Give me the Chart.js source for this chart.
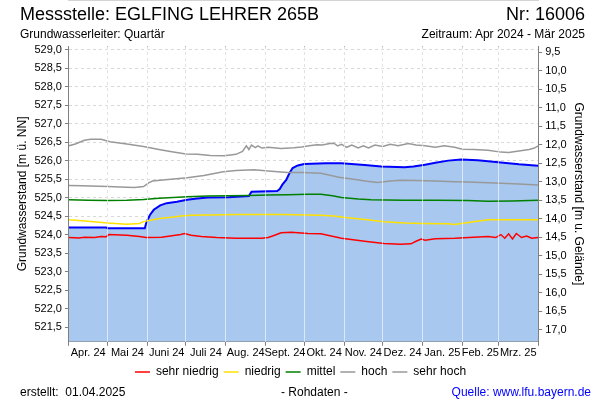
<!DOCTYPE html>
<html>
<head>
<meta charset="utf-8">
<script src="https://cdn.jsdelivr.net/npm/chart.js@4.4.1/dist/chart.umd.min.js"></script>
<style>
  body { margin: 0; background: #fff; font-family: "Liberation Sans", Arial, sans-serif; }
  #wrap { position: relative; width: 600px; height: 400px; }
  .t { position: absolute; white-space: nowrap; color: #000; line-height: 1.15; }
</style>
</head>
<body>
<div id="wrap">
  <canvas id="c" width="600" height="400"></canvas>
  <div class="t" style="left:20px; top:4px; font-size:18px;">Messstelle: EGLFING LEHRER 265B</div>
  <div class="t" style="right:15px; top:4px; font-size:18px;">Nr: 16006</div>
  <div class="t" style="left:20px; top:28px; font-size:12px;">Grundwasserleiter: Quartär</div>
  <div class="t" style="right:15px; top:28px; font-size:12px;">Zeitraum: Apr 2024 - Mär 2025</div>
  <div class="t" style="left:20px; top:386px; font-size:12px;">erstellt:&nbsp; 01.04.2025</div>
  <div class="t" style="left:281px; top:386px; font-size:12px;">- Rohdaten -</div>
  <div class="t" style="right:9px; top:386px; font-size:12px; color:#0000ff;">Quelle: www.lfu.bayern.de</div>
</div>
<script>
// Geländeoberkante (m ü. NN), verbindet linke und rechte Achse
var GROUND = 538.43;

// Tage ab 01.04.2024
var monthStarts = [0, 30, 61, 91, 122, 153, 183, 214, 244, 275, 306, 334, 365];
var monthLabels = ['Apr. 24', 'Mai 24', 'Juni 24', 'Juli 24', 'Aug. 24', 'Sept. 24',
                   'Okt. 24', 'Nov. 24', 'Dez. 24', 'Jan. 25', 'Feb. 25', 'Mrz. 25'];

var leftTicks = [521.5, 522.0, 522.5, 523.0, 523.5, 524.0, 524.5, 525.0,
                 525.5, 526.0, 526.5, 527.0, 527.5, 528.0, 528.5, 529.0];
var rightTicks = [9.5, 10.0, 10.5, 11.0, 11.5, 12.0, 12.5, 13.0,
                  13.5, 14.0, 14.5, 15.0, 15.5, 16.0, 16.5, 17.0];

// Messwerte (Rohdaten)
var messTage = [0, 29, 30, 59, 60, 61, 63, 66, 71, 76, 84, 92, 98, 108, 124, 140, 142, 162,
                164, 166, 169, 171.5, 174, 178, 183, 200, 212, 230, 243, 261, 268, 277, 285,
                295, 305, 318, 336, 350, 365];
var messWerte = [524.19, 524.19, 524.17, 524.17, 524.30, 524.38, 524.53, 524.67, 524.79, 524.85,
                 524.89, 524.94, 524.97, 525.00, 525.01, 525.04, 525.16, 525.18, 525.23, 525.35,
                 525.48, 525.66, 525.80, 525.87, 525.91, 525.93, 525.93, 525.88, 525.84, 525.82,
                 525.84, 525.89, 525.94, 526.00, 526.03, 526.01, 525.95, 525.90, 525.86];

// Vergleichswerte
var sehrNiedrigTage = [0, 8, 12, 20, 25, 29, 31, 45, 55, 60, 72, 87, 90, 95, 103, 115, 130, 150,
                       155, 160, 165, 173, 186, 196, 212, 230, 245, 258, 266, 270, 274, 277, 285,
                       300, 326, 332, 336, 339, 342, 345, 348, 352, 356, 360, 365];
var sehrNiedrigWerte = [523.92, 523.91, 523.93, 523.92, 523.95, 523.94, 524.00, 523.98, 523.95,
                        523.92, 523.93, 524.00, 524.03, 523.98, 523.95, 523.92, 523.90, 523.90,
                        523.92, 523.98, 524.05, 524.06, 524.03, 524.02, 523.90, 523.82, 523.76,
                        523.74, 523.75, 523.82, 523.88, 523.85, 523.89, 523.90, 523.95, 523.92,
                        524.00, 523.90, 524.02, 523.88, 524.03, 523.92, 523.96, 523.90, 523.92];

var niedrigTage = [0, 15, 30, 45, 55, 58, 65, 72, 80, 87, 95, 110, 130, 150, 165, 186, 196, 206,
                   215, 232, 245, 261, 275, 295, 300, 305, 326, 345, 365];
var niedrigWerte = [524.40, 524.36, 524.31, 524.28, 524.30, 524.35, 524.40, 524.44, 524.47, 524.50,
                    524.52, 524.53, 524.54, 524.54, 524.54, 524.53, 524.52, 524.50, 524.46, 524.40,
                    524.35, 524.31, 524.30, 524.29, 524.27, 524.30, 524.40, 524.40, 524.40];

var mittelTage = [0, 15, 30, 45, 58, 70, 92, 108, 124, 140, 155, 170, 186, 196, 205, 212, 225,
                  235, 260, 285, 310, 326, 345, 365];
var mittelWerte = [524.94, 524.93, 524.92, 524.93, 524.95, 524.98, 525.02, 525.04, 525.05, 525.06,
                   525.07, 525.08, 525.09, 525.09, 525.05, 525.00, 524.96, 524.94, 524.93, 524.93,
                   524.92, 524.90, 524.91, 524.93];

var hochTage = [0, 10, 30, 45, 51, 58, 62, 65, 75, 92, 105, 120, 130, 144, 155, 170, 181, 196,
                210, 220, 232, 240, 250, 258, 270, 285, 300, 310, 326, 336, 350, 365];
var hochWerte = [525.33, 525.32, 525.30, 525.28, 525.27, 525.30, 525.40, 525.45, 525.48, 525.54,
                 525.60, 525.70, 525.73, 525.75, 525.72, 525.68, 525.68, 525.66, 525.55, 525.50,
                 525.44, 525.41, 525.45, 525.47, 525.46, 525.45, 525.43, 525.42, 525.40, 525.39,
                 525.37, 525.34];

var sehrHochTage = [0, 5, 12, 17, 25, 32, 45, 58, 70, 80, 91, 100, 110, 121, 130, 135, 138, 140,
                    142, 145, 147, 150, 155, 165, 175, 181, 187, 193, 197, 203, 206, 209, 212,
                    216, 220, 225, 229, 233, 238, 244, 250, 256, 264, 270, 277, 285, 292, 300,
                    306, 315, 326, 336, 342, 350, 358, 362, 365];
var sehrHochWerte = [526.40, 526.45, 526.55, 526.58, 526.58, 526.51, 526.45, 526.38, 526.30,
                     526.24, 526.18, 526.17, 526.14, 526.13, 526.17, 526.25, 526.40, 526.30,
                     526.42, 526.35, 526.40, 526.34, 526.36, 526.33, 526.35, 526.37, 526.40,
                     526.43, 526.42, 526.46, 526.47, 526.40, 526.44, 526.36, 526.42, 526.34,
                     526.40, 526.34, 526.42, 526.38, 526.44, 526.40, 526.46, 526.42, 526.40,
                     526.36, 526.40, 526.36, 526.31, 526.30, 526.28, 526.23, 526.22, 526.26,
                     526.30, 526.34, 526.40];

function pts(tage, werte) {
    return tage.map(function(t, i) { return {x: t, y: werte[i]}; });
}

var monthMids = [];
for (var m = 0; m < monthLabels.length; m++) {
    monthMids.push((monthStarts[m] + monthStarts[m + 1]) / 2);
}
var xTicks = monthStarts.concat(monthMids).sort(function(a, b) { return a - b; });
var innerStarts = monthStarts.slice(1, -1);

function komma(v) { return v.toFixed(1).replace('.', ','); }
function isStart(v) { return monthStarts.indexOf(v) >= 0; }
function isEdge(v) { return v === 0 || v === 365; }

function line(label, data, color) {
    return {
        label: label, data: pts(data[0], data[1]), borderColor: color, backgroundColor: color,
        borderWidth: 1.5, pointRadius: 0, fill: false, tension: 0
    };
}

var font = "'Liberation Sans', Arial, sans-serif";
Chart.defaults.font.family = font;
Chart.defaults.color = '#000';

new Chart(document.getElementById('c'), {
    type: 'line',
    data: {
        datasets: [
            line('sehr niedrig', [sehrNiedrigTage, sehrNiedrigWerte], '#ff0000'),
            line('niedrig', [niedrigTage, niedrigWerte], '#ffe100'),
            line('mittel', [mittelTage, mittelWerte], '#008000'),
            line('hoch', [hochTage, hochWerte], '#999999'),
            line('sehr hoch', [sehrHochTage, sehrHochWerte], '#999999'),
            {
                label: 'Rohdaten',
                data: pts(messTage, messWerte),
                borderColor: '#0000ff',
                backgroundColor: '#a8c8f0',
                borderWidth: 2,
                pointRadius: 0,
                fill: 'start',
                tension: 0
            }
        ]
    },
    options: {
        responsive: false,
        animation: false,
        layout: { padding: { left: 11, right: 10, top: 46, bottom: 12 } },
        scales: {
            x: {
                type: 'linear', min: 0, max: 365, position: 'bottom',
                afterBuildTicks: function(ax) {
                    ax.ticks = xTicks.map(function(v) { return {value: v}; });
                },
                ticks: {
                    autoSkip: false, maxRotation: 0, minRotation: 0, padding: 1,
                    font: { size: 11 },
                    callback: function(v) {
                        var i = monthMids.indexOf(v);
                        return i >= 0 ? monthLabels[i] : '';
                    }
                },
                grid: {
                    color: function(ctx) {
                        var v = ctx.tick ? ctx.tick.value : 0;
                        return (isStart(v) && !isEdge(v)) ? '#b4b4b4' : 'transparent';
                    },
                    tickColor: function(ctx) {
                        var v = ctx.tick ? ctx.tick.value : 0;
                        return isStart(v) ? '#808080' : 'transparent';
                    },
                    tickLength: 4
                },
                border: { color: '#808080', dash: [3, 3] }
            },
            xt: {
                type: 'linear', min: 0, max: 365, position: 'top',
                afterBuildTicks: function(ax) {
                    ax.ticks = innerStarts.map(function(v) { return {value: v}; });
                },
                ticks: { display: false },
                grid: { color: 'rgba(255,255,255,0.6)', drawTicks: false, z: 1 },
                border: { color: '#aaaaaa' }
            },
            y: {
                min: 521.1, max: 529.1, position: 'left',
                afterBuildTicks: function(ax) {
                    ax.ticks = leftTicks.map(function(v) { return {value: v}; });
                },
                ticks: { font: { size: 11 }, padding: 3, callback: function(v) { return komma(v); } },
                grid: { color: '#d8d8d8', tickColor: '#808080', tickLength: 4 },
                border: { color: '#808080', dash: [3, 3] },
                title: { display: true, text: 'Grundwasserstand [m ü. NN]', font: { size: 12 },
                         padding: { top: 4, bottom: 2 } }
            },
            y2: {
                min: GROUND - 529.1, max: GROUND - 521.1, reverse: true, position: 'right',
                afterBuildTicks: function(ax) {
                    ax.ticks = rightTicks.map(function(v) { return {value: v}; });
                },
                ticks: { font: { size: 11 }, padding: 3, callback: function(v) { return komma(v); } },
                grid: { drawOnChartArea: false, tickColor: '#808080', tickLength: 4 },
                border: { color: '#808080' },
                title: { display: true, text: 'Grundwasserstand [m u. Gelände]', font: { size: 12 },
                         padding: { top: 4, bottom: 2 } }
            }
        },
        plugins: {
            legend: {
                position: 'bottom',
                labels: {
                    usePointStyle: true, pointStyle: 'line', pointStyleWidth: 15,
                    font: { size: 12 }, padding: 5,
                    filter: function(item) { return item.datasetIndex !== 5; }
                }
            },
            tooltip: { enabled: false }
        }
    }
});
</script>
</body>
</html>
